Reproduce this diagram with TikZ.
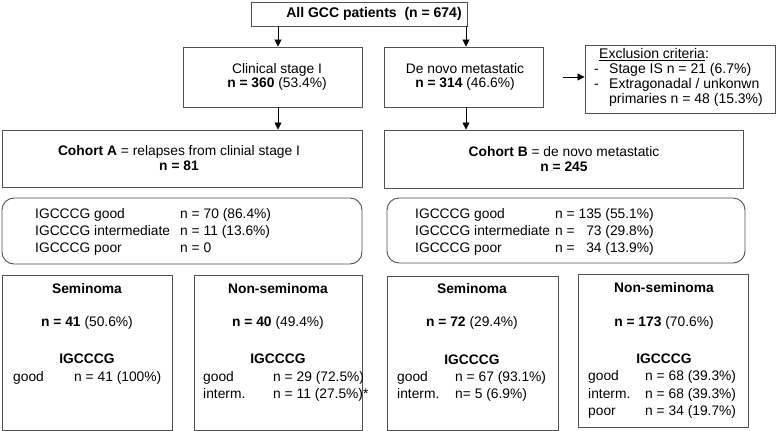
\documentclass[tikz,border=0pt]{standalone}
\usepackage{fontspec}
\setmainfont{Liberation Sans}
\usetikzlibrary{arrows.meta}
\definecolor{boxgray}{HTML}{505050}
\newcommand{\fsz}{\fontsize{13.8}{14.5}\selectfont}
\newcommand{\fsm}{\fontsize{14}{15}\selectfont}
\begin{document}
\begin{tikzpicture}[x=1pt,y=-1pt,
  every node/.style={font=\fsz},
  box/.style={draw=boxgray, line width=0.9pt, inner sep=0pt},
  rbox/.style={box, rounded corners=12pt},
  txt/.style={inner sep=0pt, text height=10pt, text depth=2.9pt},
  arr/.style={-{Triangle[length=7pt,width=7pt]}, line width=0.8pt}]
  \useasboundingbox (0,0) rectangle (777,431);
  % boxes
  \node[box, minimum width=216, minimum height=24] (all) at (359,14) {};
  \node[box, minimum width=179, minimum height=60] (cs1) at (272.5,77) {};
  \node[box, minimum width=159, minimum height=60] (dnm) at (463.5,77) {};
  \node[box, minimum width=190, minimum height=68] (excl) at (680,79) {};
  \node[box, minimum width=360, minimum height=57] (cohA) at (182,158.5) {};
  \node[box, minimum width=359, minimum height=58] (cohB) at (563.5,159) {};
  \node[rbox, minimum width=360, minimum height=66] (igA) at (182,231) {};
  \node[rbox, minimum width=358, minimum height=65] (igB) at (566,230.5) {};
  \node[box, minimum width=170, minimum height=155] (semA) at (87,352.5) {};
  \node[box, minimum width=168, minimum height=155] (nonA) at (278,352.5) {};
  \node[box, minimum width=171, minimum height=154] (semB) at (472.5,353) {};
  \node[box, minimum width=170, minimum height=153] (nonB) at (663,350.5) {};
  % arrows
  \coordinate (colL) at (278,0);
  \coordinate (colR) at (466,0);
  \draw[arr] (all.south -| colL) -- (cs1.north -| colL);
  \draw[arr] (all.south -| colR) -- (dnm.north -| colR);
  \draw[arr] (cs1.south -| colL) -- (cohA.north -| colL);
  \draw[arr] (dnm.south -| colR) -- (cohB.north -| colR);
  \draw[arr] ([xshift=20pt]dnm.east) -- (excl.west |- dnm.east);
  % texts
  \node[txt, font=\fsm\bfseries] (allT) at (374,14) {All GCC patients\ \ (n = 674)};
  \node[inner sep=0pt, align=center] (cs1T) at (277,77) {Clinical stage I\\\textbf{n = 360} (53.4\%)};
  \node[inner sep=0pt, align=center] (dnmT) at (465,77) {De novo metastatic\\\textbf{n = 314} (46.6\%)};
  \node[txt, font=\fsm, anchor=west] (exT) at (599,55) {\underline{Exclusion criteria}:};
  \foreach \t/\y in {{Stage IS n = 21 (6.7\%)}/70, {Extragonadal / unkonwn}/85, {primaries n = 48 (15.3\%)}/100}
    \node[txt, font=\fsm, anchor=west] (ex\y) at (609,\y) {\t};
  \foreach \y in {70,85}
    \node[txt, font=\fsm, anchor=west] (dash\y) at (594,\y) {-};
  \node[inner sep=0pt, align=center] (cohAT) at (179,158) {\textbf{Cohort A} = relapses from clinial stage I\\\textbf{n = 81}};
  \node[inner sep=0pt, align=center] (cohBT) at (564,159) {\textbf{Cohort B} = de novo metastatic\\\textbf{n = 245}};
  \foreach \lab/\val/\y in {good/{n = 70 (86.4\%)}/215, intermediate/{n = 11 (13.6\%)}/232, poor/{n = 0}/249}{
    \node[txt, anchor=west] (igAl\y) at (35,\y) {IGCCCG \lab};
    \node[txt, anchor=west] (igAv\y) at (180,\y) {\val};
  }
  \foreach \lab/\val/\y in {good/{n = 135 (55.1\%)}/215, intermediate/{n = \hphantom{1}73 (29.8\%)}/232, poor/{n = \hphantom{1}34 (13.9\%)}/249}{
    \node[txt, anchor=west] (igBl\y) at (415,\y) {IGCCCG \lab};
    \node[txt, anchor=west] (igBv\y) at (555,\y) {\val};
  }
  % cohort A subgroups
  \node[txt, font=\fsz\bfseries] (semAT) at (87,290) {Seminoma};
  \node[txt] (semAN) at (87,323) {\textbf{n = 41} (50.6\%)};
  \node[txt, font=\fsz\bfseries] (semAG) at (87,360) {IGCCCG};
  \node[txt, anchor=west] (semAl1) at (13,378) {good};
  \node[txt, anchor=west] (semAv1) at (74,378) {n = 41 (100\%)};
  \node[txt, font=\fsz\bfseries] (nonAT) at (278,290) {Non-seminoma};
  \node[txt] (nonAN) at (278,323) {\textbf{n = 40} (49.4\%)};
  \node[txt, font=\fsz\bfseries] (nonAG) at (278,360) {IGCCCG};
  \foreach \lab/\val/\y in {good/{n = 29 (72.5\%)}/378, interm./{n = 11 (27.5\%)*}/395}{
    \node[txt, anchor=west] (nonAl\y) at (203,\y) {\lab};
    \node[txt, anchor=west] (nonAv\y) at (273,\y) {\val};
  }
  % cohort B subgroups
  \node[txt, font=\fsz\bfseries] (semBT) at (472,290) {Seminoma};
  \node[txt] (semBN) at (472,323) {\textbf{n = 72} (29.4\%)};
  \node[txt, font=\fsz\bfseries] (semBG) at (472,361) {IGCCCG};
  \foreach \lab/\val/\y in {good/{n = 67 (93.1\%)}/378, interm./{n= 5 (6.9\%)}/395}{
    \node[txt, anchor=west] (semBl\y) at (397,\y) {\lab};
    \node[txt, anchor=west] (semBv\y) at (455,\y) {\val};
  }
  \node[txt, font=\fsz\bfseries] (nonBT) at (664,289) {Non-seminoma};
  \node[txt] (nonBN) at (664,323) {\textbf{n = 173} (70.6\%)};
  \node[txt, font=\fsz\bfseries] (nonBG) at (664,360) {IGCCCG};
  \foreach \lab/\val/\y in {good/{n = 68 (39.3\%)}/377, interm./{n = 68 (39.3\%)}/395, poor/{n = 34 (19.7\%)}/412}{
    \node[txt, anchor=west] (nonBl\y) at (588,\y) {\lab};
    \node[txt, anchor=west] (nonBv\y) at (645,\y) {\val};
  }
\end{tikzpicture}
\end{document}
